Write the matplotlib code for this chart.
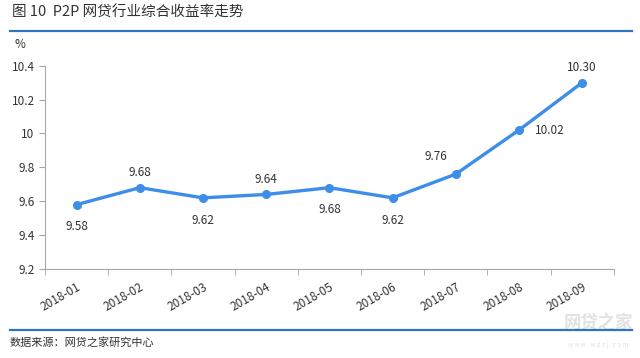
import matplotlib.pyplot as plt
from matplotlib.lines import Line2D

plt.rcParams['font.family'] = ['Noto Sans CJK SC', 'DejaVu Sans']

months = ['2018-01', '2018-02', '2018-03', '2018-04', '2018-05',
          '2018-06', '2018-07', '2018-08', '2018-09']
rates = [9.58, 9.68, 9.62, 9.64, 9.68, 9.62, 9.76, 10.02, 10.30]
labels = ['9.58', '9.68', '9.62', '9.64', '9.68', '9.62', '9.76', '10.02', '10.30']
# where each value label sits relative to its point (dx, dy in points)
offsets = [(0, -16), (0, 11), (0, -16), (0, 11), (0, -16),
           (0, -16), (-14, 13), (22, 0), (0, 11)]

blue = '#3d8ee8'
rule = '#2f74c0'
grey = '#a6a6a6'

fig = plt.figure(figsize=(6.4, 3.58), dpi=100)
ax = fig.add_axes([0.0703, 0.2486, 0.8887, 0.5679])

x = list(range(len(months)))
ax.plot(x, rates, color=blue, lw=2.4, marker='o', ms=5.5, zorder=3)
for xi, yi, lab, (dx, dy) in zip(x, rates, labels, offsets):
    ax.annotate(lab, (xi, yi), xytext=(dx, dy), textcoords='offset points',
                ha='center', va='center', fontsize=8.5, color='#333333')

ax.set_xlim(-0.5, len(months) - 0.5)
ax.set_ylim(9.2, 10.4)
ax.set_yticks([9.2, 9.4, 9.6, 9.8, 10.0, 10.2, 10.4])
ax.set_yticklabels(['9.2', '9.4', '9.6', '9.8', '10', '10.2', '10.4'])
ax.set_xticks(x)
ax.set_xticklabels(months, rotation=30, ha='right', rotation_mode='anchor')
ax.set_xticks([i - 0.5 for i in range(len(months) + 1)], minor=True)
ax.tick_params(axis='x', which='major', length=0, pad=8, labelsize=8.5, colors='#333333')
ax.tick_params(axis='x', which='minor', length=4, color=grey)
ax.tick_params(axis='y', length=4, color=grey, labelsize=8.5, colors='#333333')
for s in ['top', 'right']:
    ax.spines[s].set_visible(False)
for s in ['left', 'bottom']:
    ax.spines[s].set_color(grey)

fig.text(20 / 640, 1 - 45 / 358, '%', fontsize=8.5, color='#333333', ha='center', va='center')
fig.text(12 / 640, 1 - 13 / 358, '图 10  P2P 网贷行业综合收益率走势', fontsize=10.5,
         color='#333333', ha='left', va='center')
fig.add_artist(Line2D([10 / 640, 632 / 640], [1 - 31 / 358] * 2, color=rule, lw=1.6))
fig.add_artist(Line2D([10 / 640, 632 / 640], [1 - 330 / 358] * 2, color=rule, lw=1.6))
fig.text(10 / 640, 1 - 342 / 358, '数据来源：网贷之家研究中心', fontsize=8,
         color='#333333', ha='left', va='center')

# watermark
fig.text(598 / 640, 1 - 323 / 358, '网贷之家', fontsize=12.5, color='#e2e2e2',
         ha='center', va='center', fontweight='bold', zorder=0)
fig.text(598 / 640, 1 - 345 / 358, 'w w w . w d z j . c o m', fontsize=4.5, color='#e2e2e2',
         ha='center', va='center', zorder=0)

fig.savefig('out.png', dpi=100)
